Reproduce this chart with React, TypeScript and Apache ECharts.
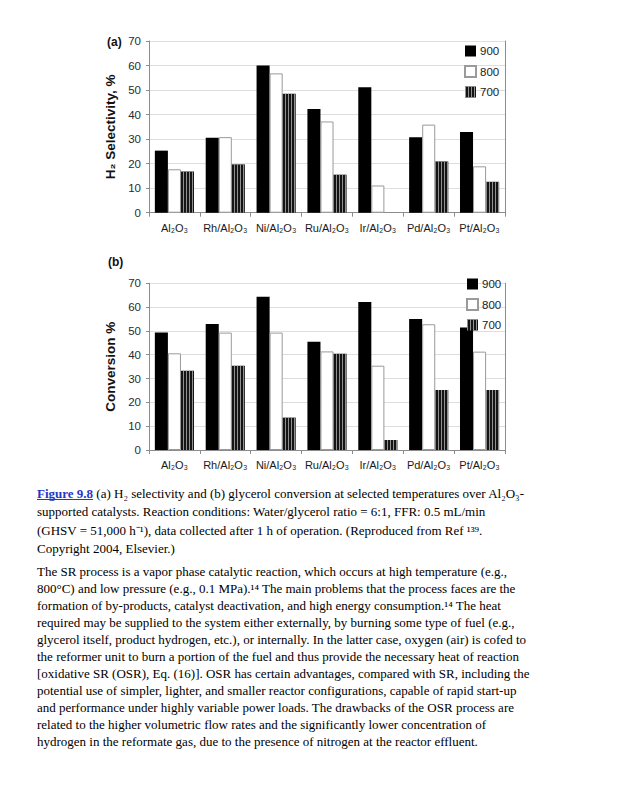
import React, { useEffect, useRef } from 'react';
import * as echarts from 'echarts';

const categories = ['Al₂O₃', 'Rh/Al₂O₃', 'Ni/Al₂O₃', 'Ru/Al₂O₃', 'Ir/Al₂O₃', 'Pd/Al₂O₃', 'Pt/Al₂O₃'];
const temperatures = ['900', '800', '700'];
const selectivity900 = [25.3, 30.6, 60.0, 42.3, 51.1, 30.8, 32.9];
const selectivity800 = [17.7, 30.8, 56.8, 37.2, 11.1, 35.9, 18.9];
const selectivity700 = [16.8, 19.7, 48.5, 15.5, 0, 20.9, 12.6];
const conversion900 = [49.3, 52.9, 64.4, 45.5, 62.2, 55.0, 51.4];
const conversion800 = [40.6, 49.3, 49.3, 41.4, 35.4, 52.8, 41.3];
const conversion700 = [33.3, 35.4, 13.6, 40.4, 4.2, 25.2, 25.2];
const yMin = 0;
const yMax = 70;
const yStep = 10;

const panelTitles = ['(a)', '(b)'];
const axisTitles = ['H₂ Selectivity, %', 'Conversion %'];

const captionFigure = 'Figure 9.8';
const captionLines = [
  ' (a) H₂ selectivity and (b) glycerol conversion at selected temperatures over Al₂O₃-',
  'supported catalysts. Reaction conditions: Water/glycerol ratio = 6:1, FFR: 0.5 mL/min',
  '(GHSV = 51,000 h⁻¹), data collected after 1 h of operation. (Reproduced from Ref ¹³⁹.',
  'Copyright 2004, Elsevier.)',
];
const bodyLines = [
  'The SR process is a vapor phase catalytic reaction, which occurs at high temperature (e.g.,',
  '800°C) and low pressure (e.g., 0.1 MPa).¹⁴ The main problems that the process faces are the',
  'formation of by-products, catalyst deactivation, and high energy consumption.¹⁴ The heat',
  'required may be supplied to the system either externally, by burning some type of fuel (e.g.,',
  'glycerol itself, product hydrogen, etc.), or internally. In the latter case, oxygen (air) is cofed to',
  'the reformer unit to burn a portion of the fuel and thus provide the necessary heat of reaction',
  '[oxidative SR (OSR), Eq. (16)]. OSR has certain advantages, compared with SR, including the',
  'potential use of simpler, lighter, and smaller reactor configurations, capable of rapid start-up',
  'and performance under highly variable power loads. The drawbacks of the OSR process are',
  'related to the higher volumetric flow rates and the significantly lower concentration of',
  'hydrogen in the reformate gas, due to the presence of nitrogen at the reactor effluent.',
];

const SANS = '"Liberation Sans", Arial, Helvetica, sans-serif';
const SERIF = '"Liberation Serif", "Times New Roman", serif';
const AXIS_GRAY = '#8c8c8c';
const LINK_BLUE = '#2438c8';
const TEXT_SIZE = 13;

export default function App() {
  const ref = useRef<HTMLDivElement>(null);

  useEffect(() => {
    if (!ref.current) return;
    const chart = echarts.init(ref.current, null, { renderer: 'svg' });

    const seriesStyles = [
      { color: '#000000' },
      { color: '#ffffff', borderColor: '#9a9a9a', borderWidth: 1 },
      {
        color: '#141414',
        decal: {
          symbol: 'rect',
          symbolSize: 1,
          dashArrayX: [1, 2],
          dashArrayY: [4, 0],
          color: 'rgba(150,150,150,0.95)',
        },
      },
    ];

    const dataSets = [
      [selectivity900, selectivity800, selectivity700],
      [conversion900, conversion800, conversion700],
    ];

    const grids = [
      { left: 149, right: 112, top: 41, height: 171.7 },
      { left: 149, right: 112, top: 283.3, height: 166.7 },
    ];

    const xAxes = grids.map((_, i) => ({
      type: 'category',
      gridIndex: i,
      data: categories,
      axisLine: { lineStyle: { color: AXIS_GRAY, width: 1 } },
      axisTick: { show: true, length: 4, lineStyle: { color: AXIS_GRAY } },
      axisLabel: {
        fontSize: 11,
        color: '#1a1a1a',
        fontFamily: SANS,
        margin: i === 0 ? 10 : 9,
        interval: 0,
      },
    }));

    const yAxes: any[] = [];
    grids.forEach((_, i) => {
      yAxes.push({
        type: 'value',
        gridIndex: i,
        min: yMin,
        max: yMax,
        interval: yStep,
        name: axisTitles[i],
        nameLocation: 'middle',
        nameGap: 25,
        nameTextStyle: { fontSize: 13.5, fontWeight: 'bold', color: '#111', fontFamily: SANS },
        axisLine: { show: true, lineStyle: { color: AXIS_GRAY, width: 1 } },
        axisTick: { show: true, length: 3, lineStyle: { color: AXIS_GRAY } },
        axisLabel: { fontSize: 11.5, color: '#2a2a2a', fontFamily: SANS, margin: 8 },
        splitLine: { show: true, lineStyle: { color: '#dedede', width: 1 } },
      });
      yAxes.push({
        type: 'value',
        gridIndex: i,
        position: 'right',
        min: yMin,
        max: yMax,
        interval: yStep,
        axisLine: { show: true, lineStyle: { color: AXIS_GRAY, width: 1 } },
        axisTick: { show: false },
        axisLabel: { show: false },
        splitLine: { show: false },
      });
    });

    const series: any[] = [];
    dataSets.forEach((sets, gi) => {
      sets.forEach((values, si) => {
        series.push({
          type: 'bar',
          name: temperatures[si],
          xAxisIndex: gi,
          yAxisIndex: gi * 2,
          data: values,
          barGap: '0%',
          barCategoryGap: '23%',
          itemStyle: seriesStyles[si],
          emphasis: { disabled: true },
        });
      });
    });

    const legendBase = {
      orient: 'vertical',
      data: temperatures,
      icon: 'rect',
      itemWidth: 11,
      itemHeight: 11,
      itemGap: 8,
      selectedMode: false,
      textStyle: { fontSize: 11.5, color: '#222', fontFamily: SANS, padding: [0, 0, 0, -1] },
      padding: 0,
    };

    const graphics: any[] = [];
    graphics.push({
      type: 'text',
      x: 107,
      y: 42,
      style: { text: panelTitles[0], fontSize: 12, fontWeight: 'bold', fontFamily: SANS, fill: '#111', verticalAlign: 'middle' },
    });
    graphics.push({
      type: 'text',
      x: 108,
      y: 262,
      style: { text: panelTitles[1], fontSize: 12, fontWeight: 'bold', fontFamily: SANS, fill: '#111', verticalAlign: 'middle' },
    });

    // caption
    const capX = 37;
    const capY = [493, 511.5, 530, 548.5];
    graphics.push({
      type: 'text',
      x: capX,
      y: capY[0],
      style: {
        text: '{fig|' + captionFigure + '}' + captionLines[0],
        fontSize: TEXT_SIZE,
        fontFamily: SERIF,
        fill: '#000',
        verticalAlign: 'middle',
        rich: {
          fig: { fontSize: TEXT_SIZE, fontFamily: SERIF, fontWeight: 'bold', fill: LINK_BLUE },
        },
      },
    });
    let figW = 56;
    try {
      const c = document.createElement('canvas').getContext('2d');
      if (c) {
        c.font = 'bold ' + TEXT_SIZE + 'px ' + SERIF;
        figW = c.measureText(captionFigure).width;
      }
    } catch (e) {}
    graphics.push({
      type: 'line',
      shape: { x1: capX, y1: capY[0] + 6.5, x2: capX + figW, y2: capY[0] + 6.5 },
      style: { stroke: LINK_BLUE, lineWidth: 1 },
    });
    for (let i = 1; i < captionLines.length; i++) {
      graphics.push({
        type: 'text',
        x: capX,
        y: capY[i],
        style: { text: captionLines[i], fontSize: TEXT_SIZE, fontFamily: SERIF, fill: '#000', verticalAlign: 'middle' },
      });
    }
    bodyLines.forEach((line, i) => {
      graphics.push({
        type: 'text',
        x: capX,
        y: 571.7 + i * 17,
        style: { text: line, fontSize: TEXT_SIZE, fontFamily: SERIF, fill: '#000', verticalAlign: 'middle' },
      });
    });

    chart.setOption({
      animation: false,
      backgroundColor: '#ffffff',
      grid: grids,
      xAxis: xAxes,
      yAxis: yAxes,
      legend: [
        { ...legendBase, left: 464, top: 45 },
        { ...legendBase, left: 466, top: 278 },
      ],
      series,
      graphic: graphics,
    });

    return () => {
      chart.dispose();
    };
  }, []);

  return (
    <div
      ref={ref}
      style={{ position: 'absolute', left: 0, top: 0, width: 617, height: 800, background: '#fff' }}
    />
  );
}
